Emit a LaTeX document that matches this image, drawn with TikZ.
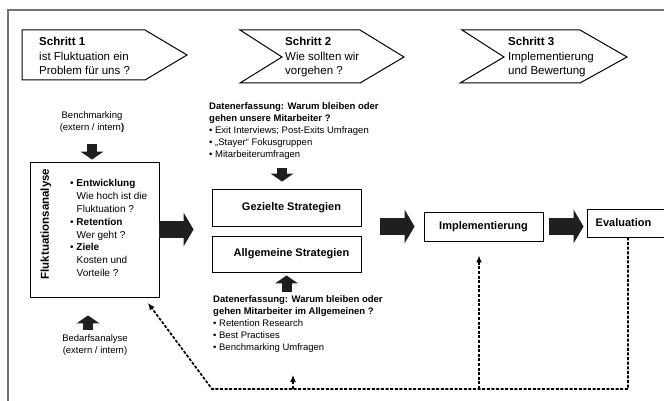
\documentclass[tikz,border=0pt]{standalone}
\usepackage{fontspec}
\setmainfont{Liberation Sans}
\usetikzlibrary{arrows.meta}

\begin{document}
\begin{tikzpicture}[x=1pt,y=-1pt,
    box/.style={draw,line width=0.9pt,inner sep=0pt,font=\bfseries\fontsize{11}{13}\selectfont},
    txt/.style={align=left,inner sep=0pt,font=\fontsize{9.5}{12}\selectfont},
    steptxt/.style={align=left,inner sep=0pt,anchor=north west,font=\fontsize{11.5}{14.5}\selectfont},
    bigarr/.style={line width=17pt,draw=black!88,-{Triangle[length=10pt,width=34pt,line width=0pt]}},
    smallarr/.style={line width=10pt,draw=black!88,-{Triangle[length=8pt,width=23pt,line width=0pt]}},
    fback/.style={line width=1.7pt,dash pattern=on 3pt off 1.6pt,-{Latex[length=7pt,width=6pt]}}]
    \useasboundingbox (0,0) rectangle (664,401);
    % frame
    \draw[black!55,line width=1.5pt] (8,401) -- (8,10) -- (664,10);
    % the three steps
    \draw[line width=1pt] (22,30) -- (145,30) -- (187,55) -- (145,80) -- (22,80) -- cycle;
    \draw[line width=1pt] (240,30) -- (360,30) -- (404,57) -- (360,83) -- (240,83) -- (282,57) -- cycle;
    \draw[line width=1pt] (462,30) -- (580,30) -- (627,57) -- (580,83) -- (460,83) -- (504,57) -- cycle;
    \node[steptxt] (step1) at (39,37) {\textbf{Schritt 1}\\ist Fluktuation ein\\Problem für uns ?};
    \node[steptxt] (step2) at (285,37) {\textbf{Schritt 2}\\Wie sollten wir\\vorgehen ?};
    \node[steptxt] (step3) at (508,37) {\textbf{Schritt 3}\\Implementierung\\und Bewertung};
    % Fluktuationsanalyse
    \node[box,minimum width=129pt,minimum height=135pt] (fluk) at (94.5,229.5) {};
    \node[rotate=90,font=\bfseries\fontsize{11.5}{14}\selectfont] (flukname) at (46,224) {Fluktuationsanalyse};
    \node[txt,anchor=north west,font=\fontsize{10}{12.9}\selectfont] (flukpts) at (70,179)
        {• \textbf{Entwicklung}\\\hspace*{6.5pt}Wie hoch ist die\\\hspace*{6.5pt}Fluktuation ?\\
         • \textbf{Retention}\\\hspace*{6.5pt}Wer geht ?\\
         • \textbf{Ziele}\\\hspace*{6.5pt}Kosten und\\\hspace*{6.5pt}Vorteile ?};
    \node[txt,align=center] (bench) at (92,122) {Benchmarking\\(extern / intern\textbf{)}};
    \node[txt,align=center] (bedarf) at (95,345.5) {Bedarfsanalyse\\(extern / intern)};
    \draw[smallarr,shorten <=11pt,shorten >=2pt] (bench.south) -- (bench.south |- fluk.north);
    \draw[smallarr,shorten <=5pt,shorten >=18pt] ([xshift=-6.5pt]fluk.south |- bedarf.north) -- ([xshift=-6.5pt]fluk.south);
    % strategies
    \node[box,minimum width=149pt,minimum height=37pt] (gez) at (286.5,207.5) {\hspace*{10pt}Gezielte Strategien};
    \node[box,minimum width=149pt,minimum height=36pt] (allg) at (286.5,254) {\hspace*{10pt}Allgemeine Strategien};
    \node[txt,anchor=north west] (dat1) at (209,102)
        {\textbf{Datenerfassung: Warum bleiben oder}\\\textbf{gehen unsere Mitarbeiter ?}\\
         • Exit Interviews; Post-Exits Umfragen\\• „Stayer“ Fokusgruppen\\• Mitarbeiterumfragen};
    \node[txt,anchor=north west] (dat2) at (213,295)
        {\textbf{Datenerfassung: Warum bleiben oder}\\\textbf{gehen Mitarbeiter im Allgemeinen ?}\\
         • Retention Research\\• Best Practises\\• Benchmarking Umfragen};
    \draw[smallarr,shorten <=9pt,shorten >=7pt] ([xshift=-4.5pt]gez.north |- dat1.south) -- ([xshift=-4.5pt]gez.north);
    \draw[smallarr,shorten <=3pt,shorten >=3pt] (allg.south |- dat2.north) -- (allg.south);
    % implementation and evaluation
    \node[box,minimum width=119pt,minimum height=29pt] (impl) at (483.5,226.5) {Implementierung};
    \node[box,minimum width=82pt,minimum height=28pt] (eval) at (628,223) {Evaluation\hspace*{9pt}};
    \draw[bigarr,shorten >=18pt] (fluk.east) -- (fluk.east -| gez.west);
    \draw[bigarr,shorten <=19pt,shorten >=9pt] (gez.east |- impl.west) -- (impl.west);
    \draw[bigarr,shorten <=6pt,shorten >=3pt] (impl.east) -- (eval.west |- impl.east);
    % feedback
    \coordinate (fbR) at (eval.south |- 0,389);
    \coordinate (fbL) at (212,389);
    \coordinate (fbin) at (148,303);
    \coordinate (fbmid) at (293,389);
    \coordinate (fbimp) at (479,389);
    \draw[fback] (eval.south) -- (fbR) -- (fbL) -- (fbin);
    \draw[fback] (fbmid) -- ++(0,-14);
    \draw[fback,shorten >=14pt] (fbimp) -- (fbimp |- impl.south);
\end{tikzpicture}
\end{document}
